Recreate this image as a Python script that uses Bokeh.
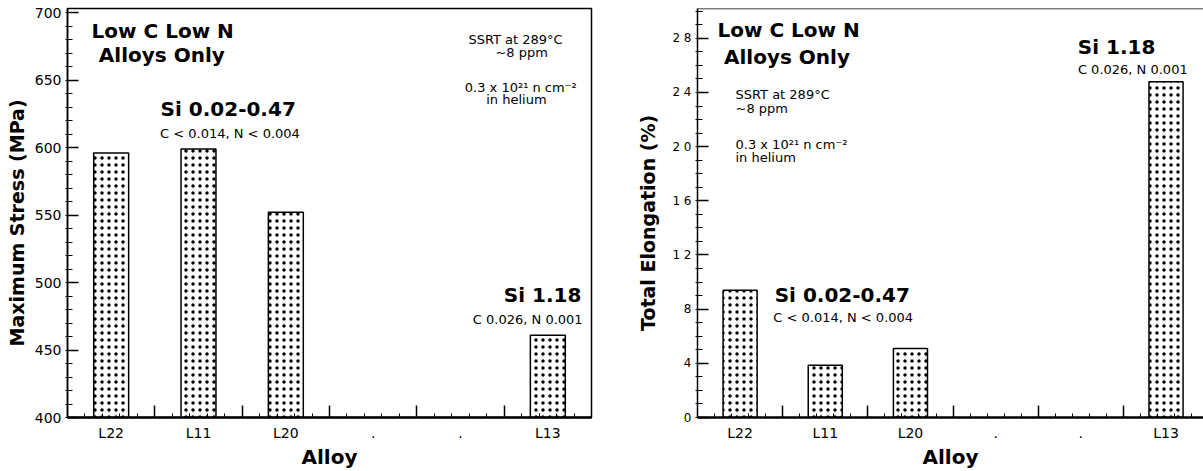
from bokeh.plotting import figure
from bokeh.layouts import row
from bokeh.models import FixedTicker, LinearAxis, Label, Range1d, Span
from bokeh.embed import file_html
from bokeh.resources import INLINE

# ---- data ----
slot_labels = ["L22", "L11", "L20", ".", ".", "L13"]
alloys = ["L22", "L11", "L20", "L13"]
max_stress = [596, 599, 552, 461]          # MPa
total_elongation = [9.4, 3.85, 5.1, 24.8]  # %
stress_ticks = [400, 450, 500, 550, 600, 650, 700]
stress_tick_labels = ["400", "450", "500", "550", "600", "650", "700"]
elong_ticks = [0, 4, 8, 12, 16, 20, 24, 28]
elong_tick_labels = ["0", "4", "8", "1 2", "1 6", "2 0", "2 4", "2 8"]

FONT = "DejaVu Sans"
NB = "\u00a0"
x_pos = [slot_labels.index(a) for a in alloys]


def make_panel(values, y_range, yticks, yticklabels, yminor, ylabel, width,
               mbl, mbr, x_end, ytick_font, ylab_standoff, full_outline):
    p = figure(width=width, height=471, x_range=Range1d(-0.5, x_end),
               y_range=Range1d(*y_range), output_backend="svg",
               toolbar_location=None, min_border_left=mbl, min_border_right=mbr,
               min_border_top=8, min_border_bottom=47)
    p.grid.visible = False
    p.background_fill_color = "white"
    p.border_fill_color = "white"
    if full_outline:
        p.outline_line_color = "black"
        p.outline_line_width = 1.5
    else:
        p.outline_line_color = None
        p.add_layout(Span(location=y_range[1], dimension="width",
                          line_color="black", line_width=1.5))

    p.vbar(x=x_pos, top=values, bottom=y_range[0], width=0.4,
           fill_color="white", line_color="black", line_width=1.5,
           hatch_pattern="dot", hatch_color="black", hatch_scale=7,
           hatch_weight=3)

    # y axis
    ya = p.yaxis[0]
    ya.ticker = FixedTicker(ticks=yticks, minor_ticks=yminor)
    ya.major_label_overrides = {t: l for t, l in zip(yticks, yticklabels)}
    ya.axis_label = ylabel
    ya.axis_label_text_font = FONT
    ya.axis_label_text_font_style = "bold"
    ya.axis_label_text_font_size = "19px"
    ya.axis_label_text_color = "black"
    ya.axis_label_standoff = ylab_standoff
    ya.major_label_text_font = FONT
    ya.major_label_text_font_size = ytick_font
    ya.major_label_text_color = "black"
    ya.major_label_standoff = 4
    ya.axis_line_color = "black"
    ya.axis_line_width = 1.5
    ya.major_tick_in = 11
    ya.major_tick_out = 0
    ya.major_tick_line_width = 1.5
    ya.minor_tick_in = 5
    ya.minor_tick_out = 2
    ya.minor_tick_line_width = 1
    ya.minor_tick_line_color = "black"

    # x axis: labels at slots
    xa = p.xaxis[0]
    xa.ticker = FixedTicker(ticks=list(range(len(slot_labels))), minor_ticks=[])
    xa.major_label_overrides = {i: l for i, l in enumerate(slot_labels)}
    xa.major_tick_in = 0
    xa.major_tick_out = 0
    xa.major_label_standoff = 7
    xa.major_label_text_font = FONT
    xa.major_label_text_font_size = "14px"
    xa.major_label_text_color = "black"
    xa.axis_line_color = "black"
    xa.axis_line_width = 2.5
    xa.axis_label = "Alloy"
    xa.axis_label_text_font = FONT
    xa.axis_label_text_font_style = "bold"
    xa.axis_label_text_font_size = "20px"
    xa.axis_label_text_color = "black"
    xa.axis_label_standoff = 1

    # x axis: separator ticks between slots
    seps = [i + 0.5 for i in range(len(slot_labels) - 1)]
    minors = [k * 0.2 + 0.1 for k in range(-3, 32)]
    ta = LinearAxis(fixed_location=y_range[0],
                    ticker=FixedTicker(ticks=seps, minor_ticks=minors),
                    major_label_overrides={s: "" for s in seps},
                    major_label_text_font_size="0px",
                    axis_line_color=None, major_tick_in=12, major_tick_out=0,
                    major_tick_line_width=1.5, minor_tick_in=4, minor_tick_out=0,
                    minor_tick_line_width=1, minor_tick_line_color="black")
    p.add_layout(ta, "below")
    return p


def add_text(p, x, y, text, size, bold=False, align="center"):
    p.add_layout(Label(x=x, y=y, text=text, text_font=FONT,
                       text_font_size=size,
                       text_font_style="bold" if bold else "normal",
                       text_align=align, text_baseline="middle",
                       text_color="black"))


left = make_panel(max_stress, (400, 703), stress_ticks, stress_tick_labels,
                  list(range(400, 701, 10)), "Maximum Stress (MPa)" + NB * 3,
                  600, 67, 9, 5.5, "14px", 4, True)
add_text(left, 0.59, 686.5, "Low C Low N", "20px", True)
add_text(left, 0.58, 668.8, "Alloys Only", "20px", True)
add_text(left, 4.63, 679.7, "SSRT at 289°C", "13px")
add_text(left, 4.70, 670.2, "~8 ppm", "13px")
add_text(left, 4.69, 644.8, "0.3 x 10²¹ n cm⁻²", "13px")
add_text(left, 4.64, 635.5, "in helium", "13px")
add_text(left, 1.34, 628.7, "Si 0.02-0.47", "20px", True)
add_text(left, 1.36, 610.5, "C < 0.014, N < 0.004", "13px")
add_text(left, 4.94, 490.5, "Si 1.18", "20px", True)
add_text(left, 4.77, 472.3, "C 0.026, N 0.001", "13px")

right = make_panel(total_elongation, (0, 30.2), elong_ticks, elong_tick_labels,
                   list(range(0, 31)), "Total Elongation (%)" + NB * 3,
                   603, 97, 0, 5.44, "12px", 10, False)
add_text(right, 0.57, 28.59, "Low C Low N", "20px", True)
add_text(right, 0.55, 26.63, "Alloys Only", "20px", True)
add_text(right, -0.054, 23.83, "SSRT at 289°C", "13px", align="left")
add_text(right, -0.054, 22.79, "~8 ppm", "13px", align="left")
add_text(right, -0.054, 20.13, "0.3 x 10²¹ n cm⁻²", "13px", align="left")
add_text(right, -0.054, 19.17, "in helium", "13px", align="left")
add_text(right, 1.20, 9.01, "Si 0.02-0.47", "20px", True)
add_text(right, 1.21, 7.35, "C < 0.014, N < 0.004", "13px")
add_text(right, 4.42, 27.38, "Si 1.18", "20px", True)
add_text(right, 4.61, 25.69, "C 0.026, N 0.001", "13px")

layout = row(left, right)
open("out.html", "w").write(file_html(layout, INLINE))
